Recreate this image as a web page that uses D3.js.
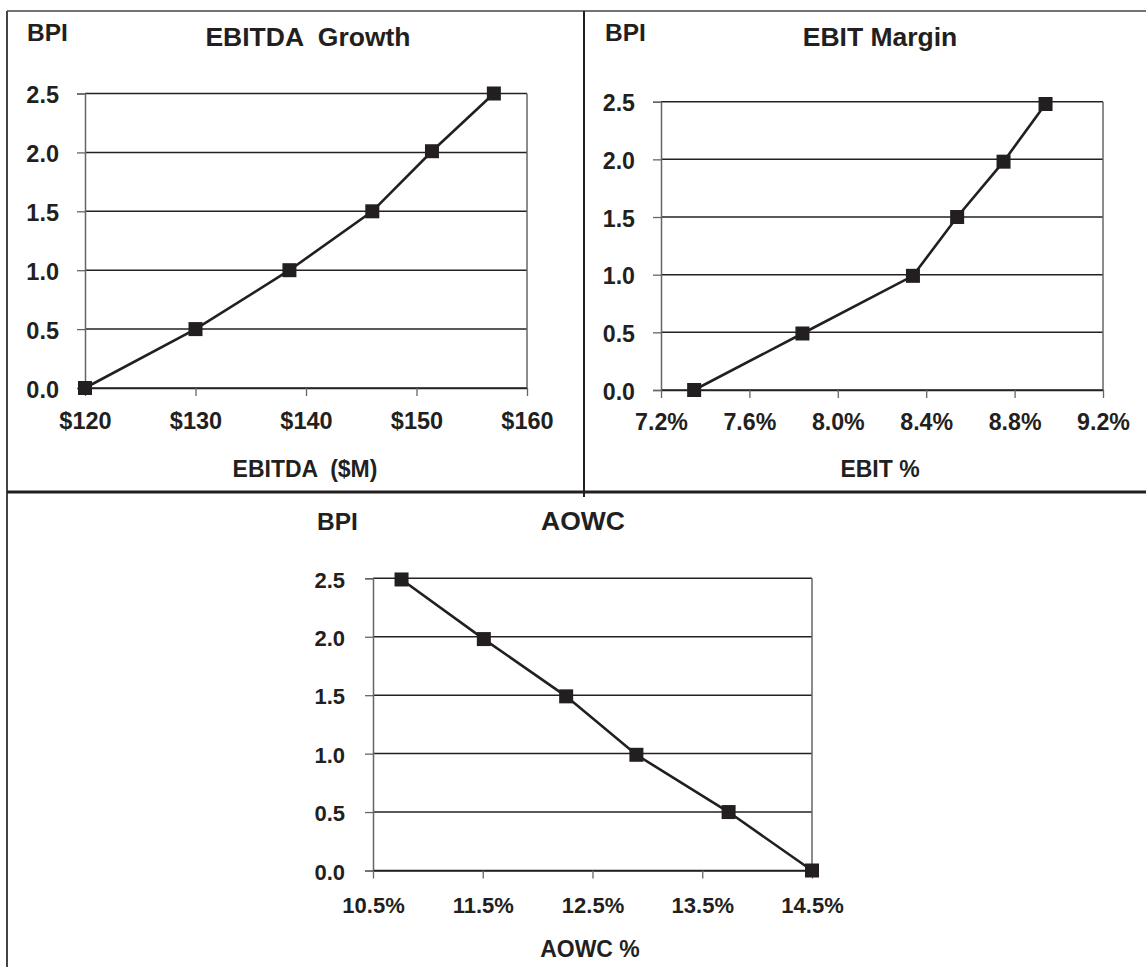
<!DOCTYPE html>
<html><head><meta charset="utf-8">
<script src="https://cdn.jsdelivr.net/npm/d3@7"></script>
<style>
html,body{margin:0;padding:0;background:#fff;}
text{font-family:"Liberation Sans",Arial,Helvetica,sans-serif;font-weight:bold;fill:#231f20;white-space:pre;}
</style></head>
<body>
<svg id="chart" width="1146" height="967"></svg>
<script>
// ---- data ----
const bpiTicks = [0, 0.5, 1.0, 1.5, 2.0, 2.5];

const ebitdaTicks = [120, 130, 140, 150, 160];
const ebitdaX = [120, 130, 138.5, 146, 151.4, 157];
const ebitdaBPI = [0, 0.5, 1.0, 1.5, 2.01, 2.5];

const ebitTicks = [7.2, 7.6, 8.0, 8.4, 8.8, 9.2];
const ebitX = [7.35, 7.84, 8.34, 8.54, 8.75, 8.94];
const ebitBPI = [0, 0.49, 0.99, 1.5, 1.98, 2.48];

const aowcTicks = [10.5, 11.5, 12.5, 13.5, 14.5];
const aowcX = [10.76, 11.51, 12.26, 12.9, 13.74, 14.5];
const aowcBPI = [2.49, 1.98, 1.49, 0.99, 0.5, 0];

const titles = ["EBITDA  Growth", "EBIT Margin", "AOWC"];
const xTitles = ["EBITDA  ($M)", "EBIT %", "AOWC %"];

// ---- layout ----
const svg = d3.select("#chart");
const ink = "#231f20";

// outer frame and dividers
svg.append("line").attr("x1",7).attr("x2",7).attr("y1",11).attr("y2",967).attr("stroke","#444").attr("stroke-width",2);
svg.append("line").attr("x1",7).attr("x2",1146).attr("y1",11).attr("y2",11).attr("stroke","#444").attr("stroke-width",1.5);
svg.append("line").attr("x1",584).attr("x2",584).attr("y1",11).attr("y2",497).attr("stroke",ink).attr("stroke-width",2);
svg.append("line").attr("x1",7).attr("x2",1146).attr("y1",492).attr("y2",492).attr("stroke",ink).attr("stroke-width",3);

const panels = [
  {xs: ebitdaX, ys: ebitdaBPI, ticks: ebitdaTicks, dom:[120,160], fmt: d => "$" + d,
   x0:85, x1:527, y0:388, y1:93.5, title: titles[0], xTitle: xTitles[0],
   bpiX:27, bpiY:41, titleX:308, titleY:46, xtY:429, xtitleX:305, xtitleY:477, fs:23.5, ylabR:59},
  {xs: ebitX, ys: ebitBPI, ticks: ebitTicks, dom:[7.2,9.2], fmt: d => d3.format(".1f")(d) + "%",
   x0:661, x1:1103, y0:390, y1:101.7, title: titles[1], xTitle: xTitles[1],
   bpiX:605, bpiY:41, titleX:880, titleY:46, xtY:430, xtitleX:880, xtitleY:477, fs:23.2, ylabR:635},
  {xs: aowcX, ys: aowcBPI, ticks: aowcTicks, dom:[10.5,14.5], fmt: d => d3.format(".1f")(d) + "%",
   x0:373, x1:812, y0:870.5, y1:578.3, title: titles[2], xTitle: xTitles[2],
   bpiX:317, bpiY:530, titleX:583, titleY:530, xtY:913, xtitleX:590, xtitleY:957, fs:22, ylabR:345}
];

panels.forEach(p => {
  const x = d3.scaleLinear().domain(p.dom).range([p.x0, p.x1]);
  const y = d3.scaleLinear().domain([0, 2.5]).range([p.y0, p.y1]);
  const g = svg.append("g");

  // horizontal gridlines
  g.selectAll(".grid").data(bpiTicks).join("line")
    .attr("x1", p.x0).attr("x2", p.x1)
    .attr("y1", d => y(d)).attr("y2", d => y(d))
    .attr("stroke", "#222").attr("stroke-width", 1.5);

  // y axis
  const ya = g.append("g").attr("transform", `translate(${p.x0},0)`)
    .call(d3.axisLeft(y).tickValues(bpiTicks).tickSize(8).tickPadding(p.x0 - 8 - p.ylabR).tickFormat(d3.format(".1f")));
  ya.select(".domain").attr("stroke", "#666").attr("stroke-width", 1.5);
  ya.selectAll(".tick line").attr("stroke", "#666").attr("stroke-width", 1.3);
  ya.selectAll("text").attr("font-size", p.fs).attr("fill", ink).attr("dy", "0.4em")
    .style("font-family", '"Liberation Sans",Arial,sans-serif').style("font-weight","bold");

  // right border of plot
  g.append("line").attr("x1", p.x1).attr("x2", p.x1).attr("y1", p.y1).attr("y2", p.y0)
    .attr("stroke", "#666").attr("stroke-width", 1.5);

  // x axis
  const xa = g.append("g").attr("transform", `translate(0,${p.y0})`)
    .call(d3.axisBottom(x).tickValues(p.ticks).tickSize(8).tickSizeOuter(0).tickFormat(p.fmt).tickPadding(4));
  xa.select(".domain").attr("stroke", "#222").attr("stroke-width", 1.5);
  xa.selectAll(".tick line").attr("stroke", "#666").attr("stroke-width", 1.3);
  xa.selectAll("text").attr("font-size", p.fs).attr("fill", ink)
    .attr("y", null).attr("dy", null)
    .attr("transform", `translate(0,${p.xtY - p.y0})`)
    .style("font-family", '"Liberation Sans",Arial,sans-serif').style("font-weight","bold");

  // line
  const pts = p.xs.map((v, i) => [v, p.ys[i]]);
  g.append("path").datum(pts)
    .attr("d", d3.line().x(d => x(d[0])).y(d => y(d[1])))
    .attr("fill", "none").attr("stroke", ink).attr("stroke-width", 2.6);

  // markers
  const s = 14;
  g.selectAll(".mk").data(pts).join("rect")
    .attr("x", d => x(d[0]) - s/2).attr("y", d => y(d[1]) - s/2)
    .attr("width", s).attr("height", s).attr("fill", ink);

  // texts
  g.append("text").attr("x", p.bpiX).attr("y", p.bpiY).attr("font-size", 24.5).text("BPI");
  g.append("text").attr("x", p.titleX).attr("y", p.titleY).attr("font-size", 26.5)
    .attr("text-anchor", "middle").text(p.title);
  g.append("text").attr("x", p.xtitleX).attr("y", p.xtitleY).attr("font-size", 23)
    .attr("text-anchor", "middle").text(p.xTitle);
});
</script>
</body></html>
